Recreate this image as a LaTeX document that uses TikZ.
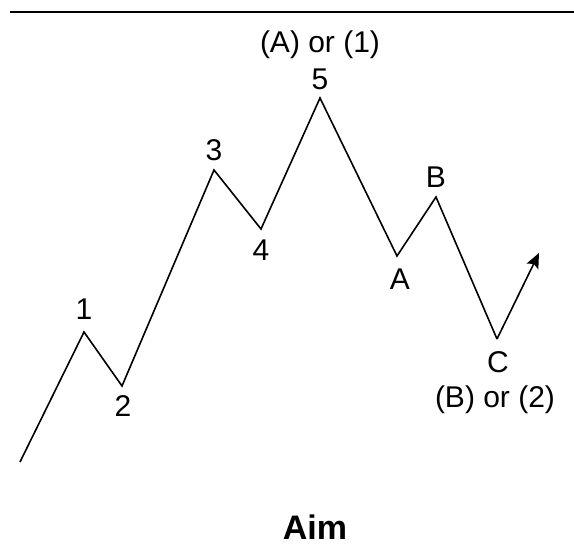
\documentclass[tikz,border=0pt]{standalone}
\usepackage{fontspec}
\setmainfont{Liberation Sans}
\usepackage{tikz}
\usetikzlibrary{arrows.meta, positioning}

\begin{document}
\begin{tikzpicture}[
  x=1pt, y=-1pt,
  lbl/.style={font=\fontsize{30}{36}\selectfont, inner sep=0pt},
  title/.style={font=\fontsize{34}{40}\selectfont\bfseries, inner sep=0pt},
  wave/.style={line width=1.6pt, line join=miter},
  arrow/.style={-{Stealth[length=15pt, width=13pt, inset=3pt]}, line width=1.6pt}
]
  \useasboundingbox (0,0) rectangle (574,555);

  % Wave points
  \coordinate (S)  at (20, 462);
  \coordinate (W1) at (84, 332);
  \coordinate (W2) at (122, 386);
  \coordinate (W3) at (214, 170);
  \coordinate (W4) at (261, 229);
  \coordinate (W5) at (320, 98);
  \coordinate (WA) at (397, 256);
  \coordinate (WB) at (436, 197);
  \coordinate (WC) at (497, 339);
  \coordinate (E)  at (539, 253);

  % Top rule
  \coordinate (R1) at (10, 12);
  \coordinate (R2) at (574, 12);
  \draw[line width=1.5pt] (R1) -- (R2);

  % Waves
  \draw[wave] (S) -- (W1) -- (W2) -- (W3) -- (W4) -- (W5) -- (WA) -- (WB) -- (WC);
  \draw[arrow] (WC) -- (E);

  % Labels
  \node[lbl] (L1) at (84, 309)  {1};
  \node[lbl] (L2) at (123, 406) {2};
  \node[lbl] (L3) at (214, 150) {3};
  \node[lbl] (L4) at (261, 250) {4};
  \node[lbl] (L5) at (320, 79)  {5};
  \node[lbl] (LA) at (400, 279) {A};
  \node[lbl] (LB) at (436, 177) {B};
  \node[lbl] (LC) at (498, 362) {C};
  \node[lbl] (top) at (320, 45)  {(A) or (1)};
  \node[lbl] (bot) at (495, 400) {(B) or (2)};

  \node[title] (aim) at (315, 527) {Aim};
\end{tikzpicture}
\end{document}
